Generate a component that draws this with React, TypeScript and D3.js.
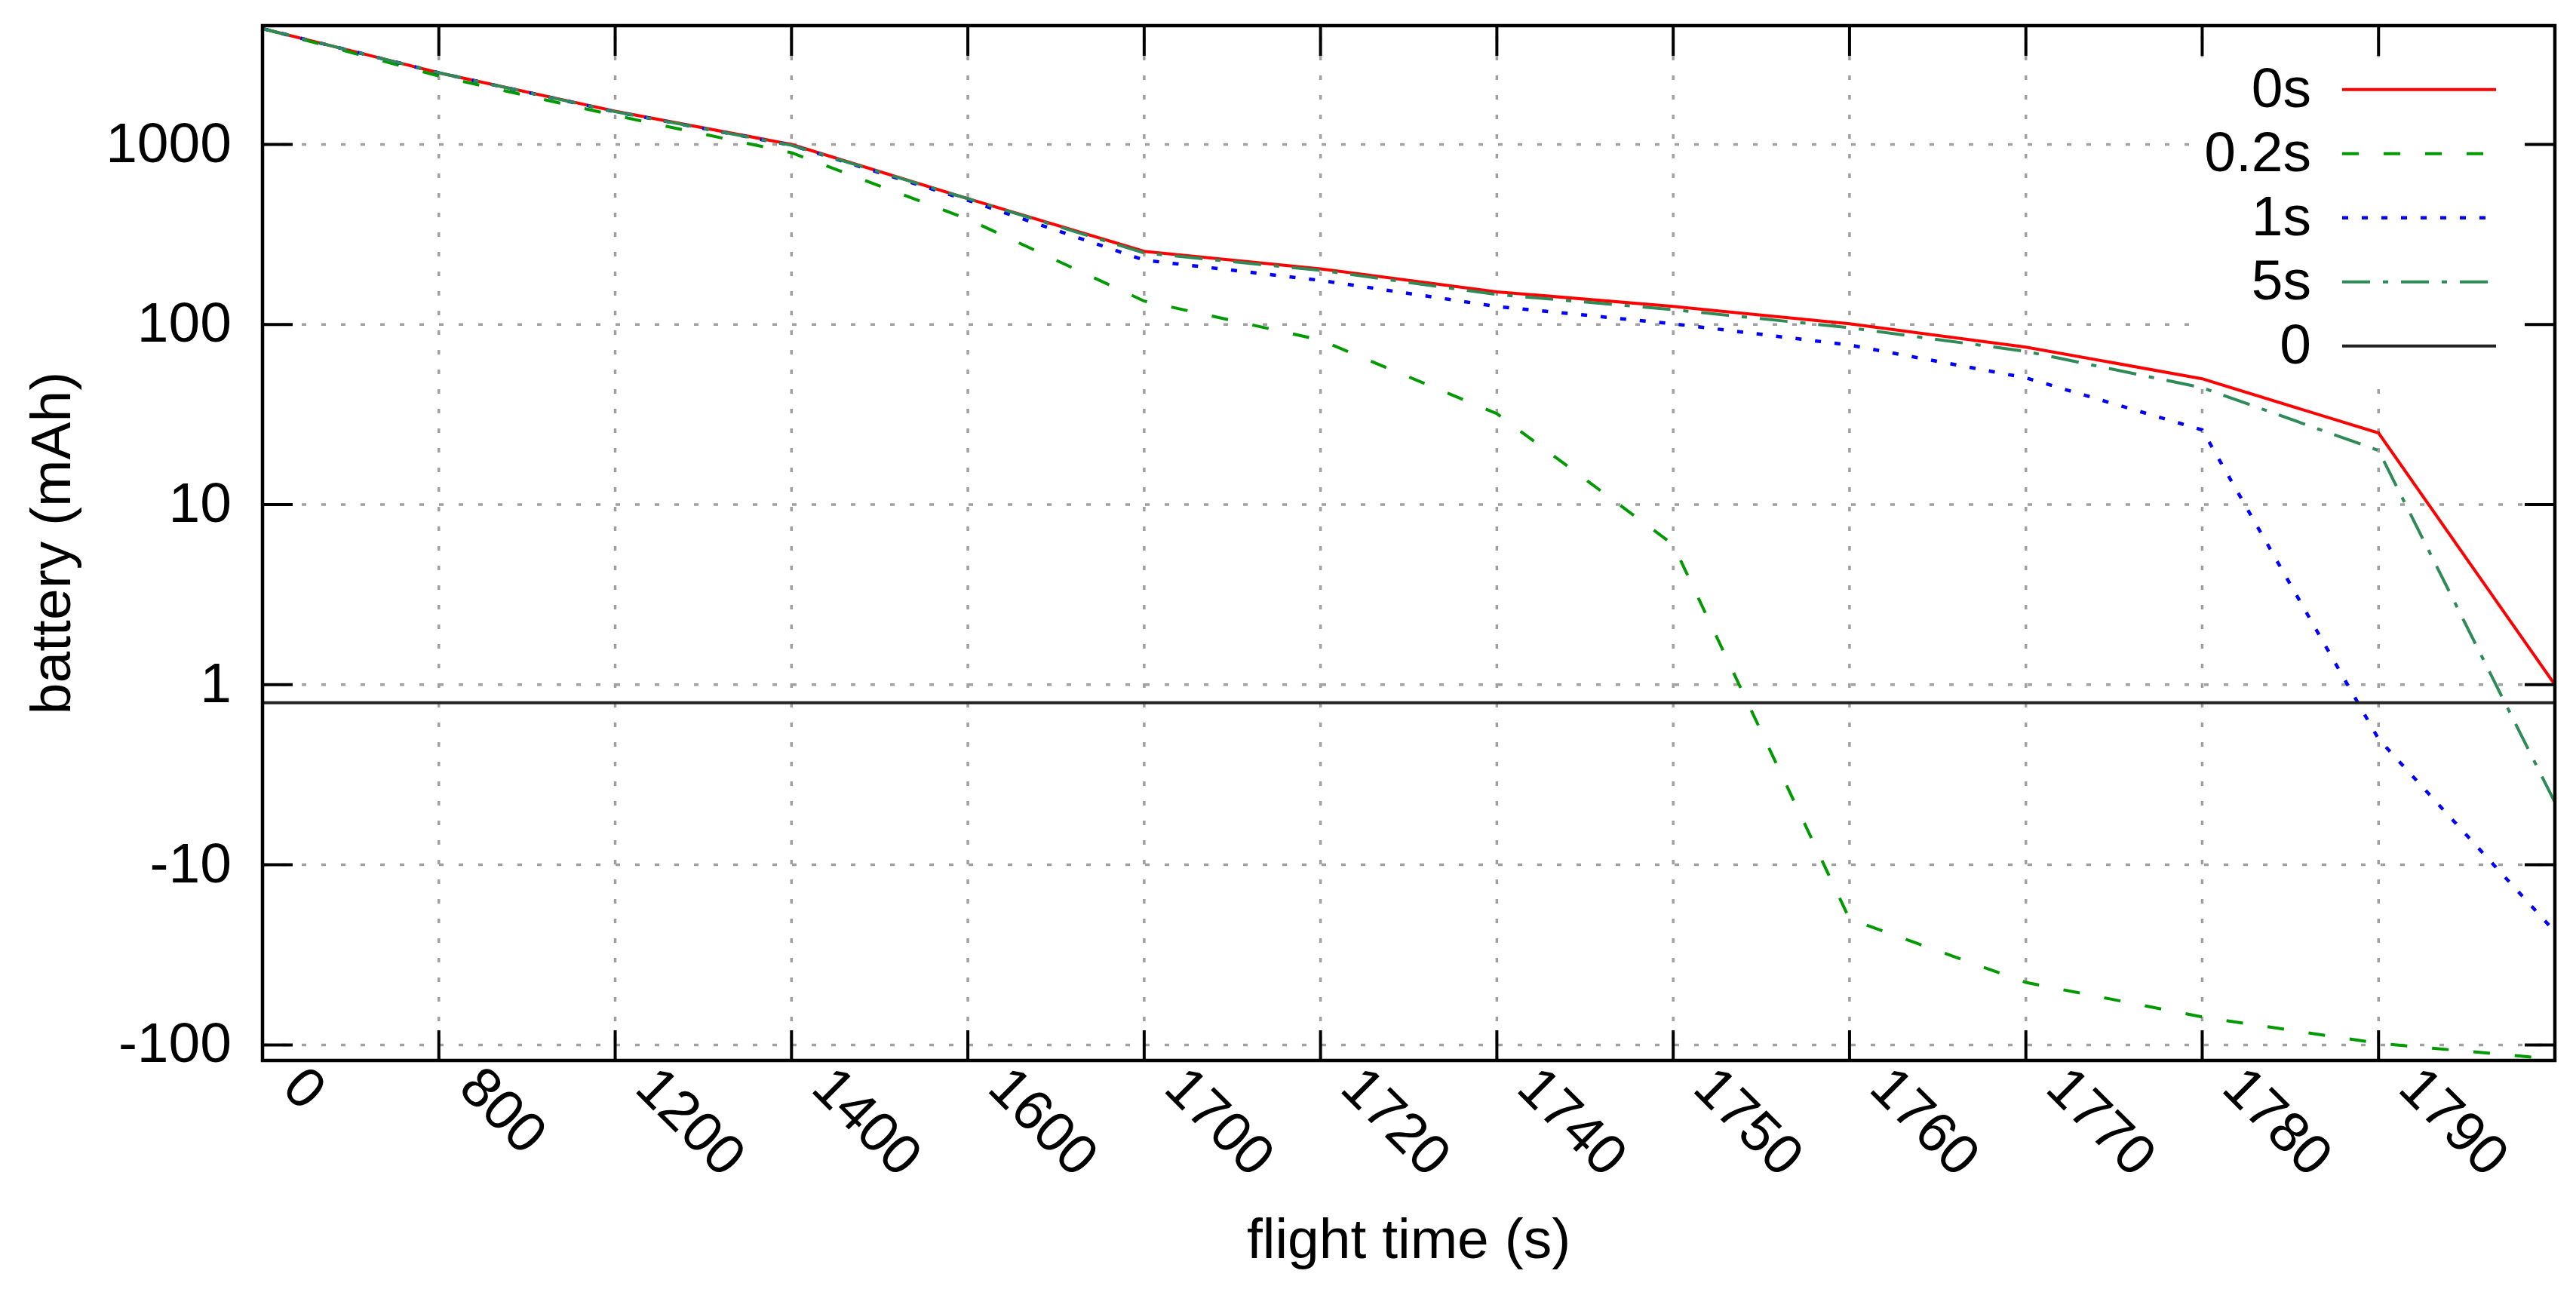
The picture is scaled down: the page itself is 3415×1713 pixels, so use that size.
import React from 'react';
import * as d3 from 'd3';

// x categories (sample times, s). The final sample sits on the right border and has no tick label.
const timeLabels = ["0", "800", "1200", "1400", "1600", "1700", "1720", "1740", "1750", "1760", "1770", "1780", "1790", "1800"];
const labelledTicks = 13;

// battery (mAh) per delay setting
const series0s = [4400, 2500, 1530, 1000, 500, 255, 204, 152, 126, 101, 75, 50, 25, 1];
const series02s = [4400, 2400, 1450, 900, 385, 135, 82, 32, 6, -20, -45, -70, -98, -120];
const series1s = [4400, 2500, 1520, 990, 490, 228, 176, 126, 101, 77, 50.6, 26, -2, -23.5];
const series5s = [4400, 2500, 1520, 990, 500, 250, 200, 147, 121, 96, 71, 44.6, 20, -4.5];
const seriesZero = [0, 0, 0, 0, 0, 0, 0, 0, 0, 0, 0, 0, 0, 0];

const yTicks = [1000, 100, 10, 1, -10, -100];
const yTickLabels = ["1000", "100", "10", "1", "-10", "-100"];
const yDomain = [-122, 4570];

const seriesNames = ["0s", "0.2s", "1s", "5s", "0"];

// signed-log transform used on the y axis (0 drawn just under the "1" line)
const ZERO_POS = -0.1;
const tf = (v: number) => (v > 0 ? Math.log10(v) : v < 0 ? -Math.log10(-v) : ZERO_POS);

const W = 3415;
const H = 1713;
const M = { left: 348, right: 3387, top: 34, bottom: 1406 };
const FONT = "'Liberation Sans', Arial, Helvetica, sans-serif";
const FS = 75;

export default function App() {
  const x = d3.scalePoint<string>().domain(timeLabels).range([M.left, M.right]).padding(0);
  const y = d3.scaleLinear().domain([tf(yDomain[0]), tf(yDomain[1])]).range([M.bottom, M.top]);
  const yv = (v: number) => y(tf(v));

  const line = d3
    .line<number>()
    .x((_, i) => x(timeLabels[i]) as number)
    .y((v) => yv(v));

  const styles = [
    { data: series0s, color: "#ff0000", dash: undefined as string | undefined, w: 4 },
    { data: series02s, color: "#009a00", dash: "22,33", w: 4 },
    { data: series1s, color: "#0000ff", dash: "8,18", w: 4.5 },
    { data: series5s, color: "#2e8b57", dash: "37,17,7,17", w: 4 },
    { data: seriesZero, color: "#222222", dash: undefined, w: 4 },
  ];

  const gridColor = "#a0a0a0";
  const tickLen = 40;
  const legendTextX = 3064;
  const legendLine = [3105, 3309];
  const legendRow0 = 118.7;
  const legendStep = 85;

  const innerIdx = timeLabels.map((_, i) => i).filter((i) => i > 0 && i < timeLabels.length - 1);

  return (
    <svg
      width={W}
      height={H}
      style={{ position: 'absolute', left: 0, top: 0, display: 'block', background: '#fff' }}
      fontFamily={FONT}
    >
      <defs>
        <clipPath id="plotClip">
          <rect x={M.left} y={M.top} width={M.right - M.left} height={M.bottom - M.top} />
        </clipPath>
      </defs>
      <rect x={0} y={0} width={W} height={H} fill="#fff" />

      {/* grid */}
      <g stroke={gridColor} strokeWidth={3.5} strokeDasharray="6,20" fill="none">
        {innerIdx.map((i) => (
          <line key={'gx' + i} x1={x(timeLabels[i])} x2={x(timeLabels[i])} y1={M.bottom} y2={M.top} />
        ))}
        {yTicks.map((t) => (
          <line key={'gy' + t} x1={M.left} x2={M.right} y1={yv(t)} y2={yv(t)} />
        ))}
      </g>

      {/* opaque key background */}
      <rect x={2907} y={76} width={M.right - 2907 - 2} height={425} fill="#fff" />

      {/* data */}
      <g clipPath="url(#plotClip)" fill="none">
        {styles.map((s, k) => (
          <path
            key={'s' + k}
            d={line(s.data) || ''}
            stroke={s.color}
            strokeWidth={s.w}
            strokeDasharray={s.dash}
            strokeLinejoin="miter"
          />
        ))}
      </g>

      {/* ticks */}
      <g stroke="#000" strokeWidth={4}>
        {yTicks.map((t) => (
          <g key={'ty' + t}>
            <line x1={M.left} x2={M.left + tickLen} y1={yv(t)} y2={yv(t)} />
            <line x1={M.right} x2={M.right - tickLen} y1={yv(t)} y2={yv(t)} />
          </g>
        ))}
        {innerIdx.map((i) => (
          <g key={'tx' + i}>
            <line x1={x(timeLabels[i])} x2={x(timeLabels[i])} y1={M.bottom} y2={M.bottom - tickLen} />
            <line x1={x(timeLabels[i])} x2={x(timeLabels[i])} y1={M.top} y2={M.top + tickLen} />
          </g>
        ))}
      </g>

      {/* frame */}
      <rect
        x={M.left}
        y={M.top}
        width={M.right - M.left}
        height={M.bottom - M.top}
        fill="none"
        stroke="#000"
        strokeWidth={4.5}
      />

      {/* y tick labels */}
      <g fontSize={FS} fill="#000" textAnchor="end">
        {yTicks.map((t, k) => (
          <text key={'yl' + t} x={307} y={yv(t) + 23}>
            {yTickLabels[k]}
          </text>
        ))}
      </g>

      {/* x tick labels */}
      <g fontSize={FS} fill="#000">
        {timeLabels.slice(0, labelledTicks).map((lab) => {
          const px = (x(lab) as number) + 42;
          const py = 1427;
          return (
            <text
              key={'xl' + lab}
              x={px}
              y={py}
              dominantBaseline="central"
              textAnchor="start"
              transform={`rotate(45 ${px} ${py})`}
            >
              {lab}
            </text>
          );
        })}
      </g>

      {/* axis titles */}
      <text x={(M.left + M.right) / 2} y={1668} fontSize={FS} textAnchor="middle" fill="#000">
        flight time (s)
      </text>
      <text
        x={93}
        y={(M.top + M.bottom) / 2}
        fontSize={FS}
        textAnchor="middle"
        fill="#000"
        transform={`rotate(-90 93 ${(M.top + M.bottom) / 2})`}
      >
        battery (mAh)
      </text>

      {/* legend */}
      <g>
        {styles.map((s, k) => {
          const ry = legendRow0 + k * legendStep;
          return (
            <g key={'lg' + k}>
              <text x={legendTextX} y={ry + 23} fontSize={FS} textAnchor="end" fill="#000">
                {seriesNames[k]}
              </text>
              <line
                x1={legendLine[0]}
                x2={legendLine[1]}
                y1={ry}
                y2={ry}
                stroke={s.color}
                strokeWidth={s.w}
                strokeDasharray={s.dash}
              />
            </g>
          );
        })}
      </g>
    </svg>
  );
}
